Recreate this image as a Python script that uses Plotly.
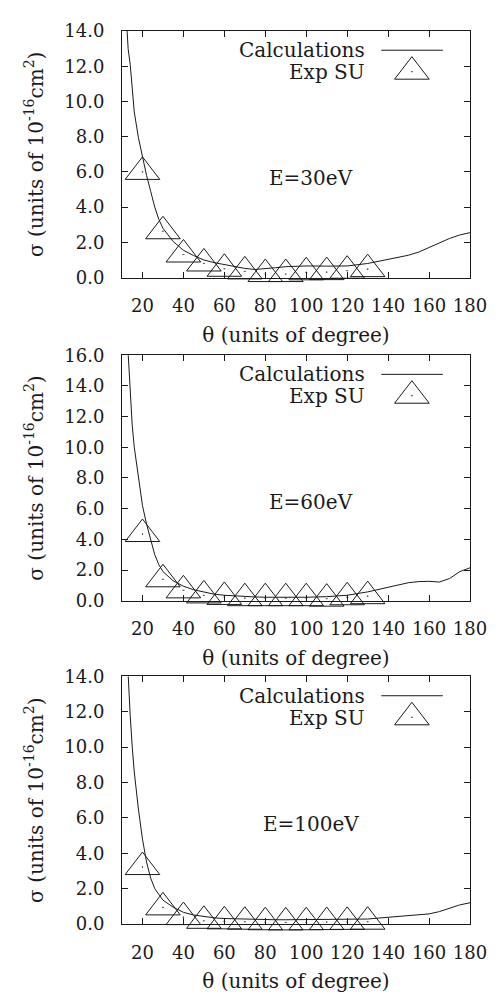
import plotly.graph_objects as go

# ---------------- data ----------------
theta_exp = [20, 30, 40, 50, 60, 70, 80, 90, 100, 110, 120, 130]
exp_30 = [6.0, 2.63, 1.31, 0.80, 0.50, 0.35, 0.20, 0.20, 0.30, 0.31, 0.39, 0.48]
exp_60 = [4.35, 1.40, 0.68, 0.35, 0.25, 0.17, 0.17, 0.17, 0.17, 0.14, 0.23, 0.30]
exp_100 = [3.22, 0.94, 0.39, 0.18, 0.15, 0.13, 0.10, 0.09, 0.10, 0.11, 0.12, 0.13]

theta_calc = [12, 13, 14, 15, 16, 18, 20, 22, 24, 26, 28, 30, 35, 40, 45, 50, 55, 60,
              65, 70, 75, 80, 85, 90, 100, 110, 120, 130, 140, 150, 155, 160, 165,
              170, 175, 180]
calc_30 = [15.0, 13.0, 12.1, 10.7, 9.4, 7.95, 6.8, 5.8, 4.9, 4.0, 3.3, 2.8, 2.05, 1.55,
           1.25, 1.0, 0.85, 0.74, 0.62, 0.52, 0.46, 0.49, 0.56, 0.62, 0.66, 0.65, 0.66,
           0.80, 1.02, 1.27, 1.45, 1.70, 1.97, 2.22, 2.42, 2.55]
calc_60 = [18.5, 16.0, 13.3, 11.4, 10.0, 8.0, 6.2, 5.0, 3.9, 3.0, 2.35, 1.9, 1.3, 0.95,
           0.72, 0.55, 0.43, 0.36, 0.31, 0.27, 0.25, 0.23, 0.22, 0.21, 0.23, 0.27, 0.36,
           0.58, 0.88, 1.18, 1.25, 1.27, 1.22, 1.45, 1.9, 2.15]
calc_100 = [16.5, 14.0, 11.8, 10.0, 8.6, 6.5, 4.8, 3.5, 2.6, 2.0, 1.65, 1.35, 0.95, 0.66,
            0.51, 0.42, 0.35, 0.31, 0.29, 0.27, 0.26, 0.25, 0.24, 0.24, 0.24, 0.24, 0.25,
            0.28, 0.38, 0.47, 0.52, 0.57, 0.70, 0.90, 1.08, 1.20]

energy_labels = ["E=30eV", "E=60eV", "E=100eV"]
y_max = [14, 16, 14]
x_tickvals = [20, 40, 60, 80, 100, 120, 140, 160, 180]
calc_name = "Calculations"
exp_name = "Exp SU"
x_title = "θ (units of degree)"
y_title = "σ (units of 10<sup>-16</sup>cm<sup>2</sup>)"

# ---------------- style ----------------
FONT = "'DejaVu Serif', 'Liberation Serif', serif"
INK = "#1a1a1a"
TICK_FS = 18
TEXT_FS = 20
MSIZE = 30

# the page body has an 8px margin, so the figure is sized to fill the window
W, H = 491, 993
ML, MR, MT, MB = 114, 20, 16, 68
# panel pixel extents within the figure (top, bottom)
panels_px = [(16, 267), (346, 596), (673, 925)]
plot_h = H - MT - MB


def dom(top, bottom):
    return [(H - MB - bottom) / plot_h, (H - MB - top) / plot_h]


fig = go.Figure()
calcs = [calc_30, calc_60, calc_100]
exps = [exp_30, exp_60, exp_100]

layout = dict(
    width=W, height=H,
    margin=dict(l=ML, r=MR, t=MT, b=MB),
    paper_bgcolor="white", plot_bgcolor="white",
    showlegend=False,
    font=dict(family=FONT, size=TEXT_FS, color=INK),
)

annotations = []
shapes = []

for i in range(3):
    n = "" if i == 0 else str(i + 1)
    xref, yref = "x" + n, "y" + n
    fig.add_trace(go.Scatter(
        x=theta_calc, y=calcs[i], mode="lines", name=calc_name,
        xaxis=xref, yaxis=yref,
        line=dict(color=INK, width=1),
    ))
    fig.add_trace(go.Scatter(
        x=theta_exp, y=exps[i], mode="markers", name=exp_name,
        xaxis=xref, yaxis=yref, cliponaxis=False,
        marker=dict(symbol="triangle-up-open-dot", size=MSIZE,
                    color=INK, line=dict(color=INK, width=1)),
    ))
    top, bottom = panels_px[i]
    layout["xaxis" + n] = dict(
        domain=[0, 1], anchor=yref, range=[10, 180],
        tickvals=x_tickvals, ticks="inside", ticklen=6, tickwidth=1,
        tickcolor=INK, showline=True, linecolor=INK, linewidth=1,
        mirror="ticks", showgrid=False, zeroline=False,
        tickfont=dict(family=FONT, size=TICK_FS, color=INK),
        ticklabelstandoff=12,
        title=dict(text=x_title, font=dict(family=FONT, size=TEXT_FS, color=INK),
                   standoff=12),
    )
    layout["yaxis" + n] = dict(
        domain=dom(top, bottom), anchor=xref, range=[0, y_max[i]],
        dtick=2, tickformat=".1f", ticks="inside", ticklen=6, tickwidth=1,
        tickcolor=INK, showline=True, linecolor=INK, linewidth=1,
        mirror="ticks", showgrid=False, zeroline=False,
        tickfont=dict(family=FONT, size=TICK_FS, color=INK),
        ticklabelstandoff=13,
        title=dict(text=y_title, font=dict(family=FONT, size=TEXT_FS, color=INK),
                   standoff=15),
    )
    xd, yd = xref + " domain", yref + " domain"
    # energy label
    annotations.append(dict(text=energy_labels[i], xref=xd, yref=yd,
                            x=0.543, y=0.402, showarrow=False,
                            xanchor="center", yanchor="middle",
                            font=dict(family=FONT, size=TEXT_FS, color=INK)))
    # legend text (gnuplot style: text right-aligned, sample on the right)
    annotations.append(dict(text=calc_name, xref=xd, yref=yd,
                            x=0.703, y=0.922, showarrow=False,
                            xanchor="right", yanchor="middle",
                            font=dict(family=FONT, size=TEXT_FS, color=INK)))
    annotations.append(dict(text=exp_name, xref=xd, yref=yd,
                            x=0.703, y=0.833, showarrow=False,
                            xanchor="right", yanchor="middle",
                            font=dict(family=FONT, size=TEXT_FS, color=INK)))
    # legend line sample
    shapes.append(dict(type="line", xref=xd, yref=yd,
                       x0=0.745, x1=0.922, y0=0.922, y1=0.922,
                       line=dict(color=INK, width=1)))
    # legend triangle sample (same geometry as plotly's triangle-up marker)
    r = MSIZE / 2
    rt = r * 2 / 3 ** 0.5
    r2 = r / 2
    shapes.append(dict(type="path", xref=xd, yref=yd,
                       xsizemode="pixel", ysizemode="pixel",
                       xanchor=0.833, yanchor=0.835,
                       path=f"M{-rt:.2f},{-r2:.2f} L{rt:.2f},{-r2:.2f} L0,{r:.2f} Z "
                            f"M0,0.5 L0.5,0 L0,-0.5 L-0.5,0 Z",
                       line=dict(color=INK, width=1)))

layout["annotations"] = annotations
layout["shapes"] = shapes
fig.update_layout(**layout)

fig.write_html("out.html")
